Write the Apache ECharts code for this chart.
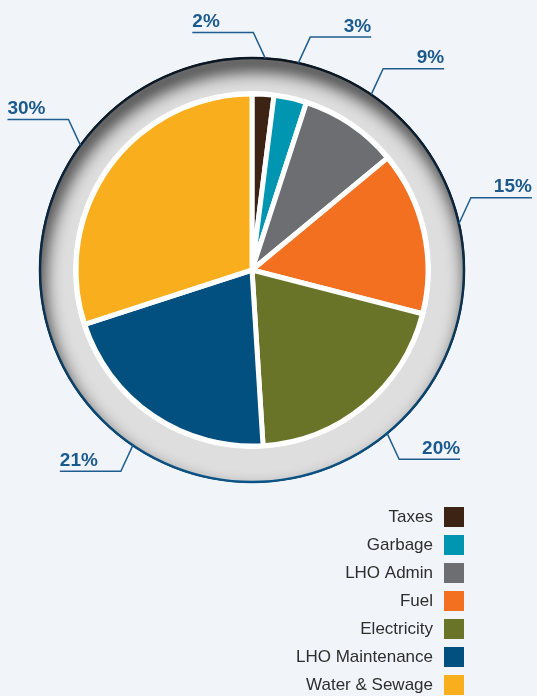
<!DOCTYPE html>
<html>
<head>
<meta charset="utf-8">
<script src="https://cdn.jsdelivr.net/npm/echarts@6/dist/echarts.min.js"></script>
<style>
html,body{margin:0;padding:0;background:#f1f5fa;}
#main{width:537px;height:696px;}
</style>
</head>
<body>
<div id="main"></div>
<script>
const categories = ['Taxes', 'Garbage', 'LHO Admin', 'Fuel', 'Electricity', 'LHO Maintenance', 'Water & Sewage'];
const shares = [2, 3, 9, 15, 20, 21, 30];
const colors = ['#3d2314', '#0096b1', '#6d6e72', '#f37021', '#6a7429', '#01507f', '#f9ae1d'];
const flipLeftLabels = ['Taxes'];

const BG = '#f1f5fa';
const CX = 252, CY = 270;
const RING_R = 212, WHITE_R = 179, PIE_R = 176;
const LEADER_DX = 12, LEADER_DY = 26;

const chart = echarts.init(document.getElementById('main'), null, { renderer: 'canvas' });

const pieData = categories.map((c, i) => ({ name: c, value: shares[i], itemStyle: { color: colors[i] } }));
const labelData = categories.map((c, i) => ({ name: c, value: shares[i] }));

const option = {
  backgroundColor: BG,
  animation: false,
  graphic: [
    { type: 'circle', z: 0, silent: true, shape: { cx: CX, cy: CY, r: RING_R }, style: { fill: '#dedede' } },
    { type: 'circle', z: 0, silent: true, shape: { cx: CX, cy: CY, r: RING_R + 7 },
      style: { fill: null, stroke: '#0a0a0a', lineWidth: 14, shadowBlur: 18, shadowColor: 'rgba(0,0,0,0.95)', shadowOffsetX: 3, shadowOffsetY: 11 } },
    { type: 'circle', z: 0, silent: true, shape: { cx: CX, cy: CY, r: RING_R + 36 },
      style: { fill: null, stroke: BG, lineWidth: 70 } },
    { type: 'circle', z: 0, silent: true, shape: { cx: CX, cy: CY, r: RING_R },
      style: { fill: null, lineWidth: 2.5,
        stroke: new echarts.graphic.LinearGradient(0, 0, 0, 1, [
          { offset: 0, color: '#0b1622' }, { offset: 0.5, color: '#0c2c47' }, { offset: 1, color: '#0a5488' }
        ]) } },
    { type: 'circle', z: 0, silent: true, shape: { cx: CX, cy: CY, r: WHITE_R }, style: { fill: '#ffffff' } }
  ],
  legend: {
    orient: 'vertical',
    right: 73,
    top: 507,
    bottom: 0,
    padding: 0,
    align: 'right',
    icon: 'rect',
    itemWidth: 20,
    itemHeight: 20,
    itemGap: 8,
    itemStyle: { borderWidth: 0 },
    data: categories,
    selectedMode: false,
    textStyle: { fontSize: 17, lineHeight: 17, color: '#2e2e2e', fontFamily: 'Liberation Sans, Arial, sans-serif', padding: [0, 6, 0, 0] }
  },
  series: [
    {
      type: 'pie',
      center: [CX, CY],
      radius: [0, PIE_R],
      startAngle: 90,
      clockwise: true,
      silent: true,
      label: { show: false },
      labelLine: { show: false },
      itemStyle: { borderColor: '#ffffff', borderWidth: 5 },
      data: pieData
    },
    {
      type: 'pie',
      center: [CX, CY],
      radius: [0, RING_R],
      startAngle: 90,
      clockwise: true,
      silent: true,
      legendHoverLink: false,
      avoidLabelOverlap: false,
      itemStyle: { color: 'rgba(0,0,0,0)' },
      label: {
        show: true,
        position: 'outside',
        formatter: '{c}%',
        fontSize: 19,
        fontWeight: 'bold',
        color: '#1b5a8d',
        fontFamily: 'Liberation Sans, Arial, sans-serif'
      },
      labelLine: { show: true, length: 27, length2: 61, lineStyle: { color: '#1f5d8f', width: 1.5 } },
      labelLayout: function (params) {
        const pts = params.labelLinePoints;
        if (!pts) return {};
        const p0 = pts[0];
        const seg2 = Math.abs(pts[2][0] - pts[1][0]);
        let sx = pts[1][0] >= p0[0] ? 1 : -1;
        const sy = pts[1][1] >= p0[1] ? 1 : -1;
        const name = categories[params.dataIndex];
        if (flipLeftLabels.indexOf(name) >= 0) sx = -1;
        const p1 = [p0[0] + sx * LEADER_DX, p0[1] + sy * LEADER_DY];
        const p2 = [p1[0] + sx * seg2, p1[1]];
        return {
          x: p2[0],
          y: p2[1] - 1,
          align: sx > 0 ? 'right' : 'left',
          verticalAlign: 'bottom',
          labelLinePoints: [p0, p1, p2]
        };
      },
      data: labelData
    }
  ]
};
chart.setOption(option);
</script>
</body>
</html>
